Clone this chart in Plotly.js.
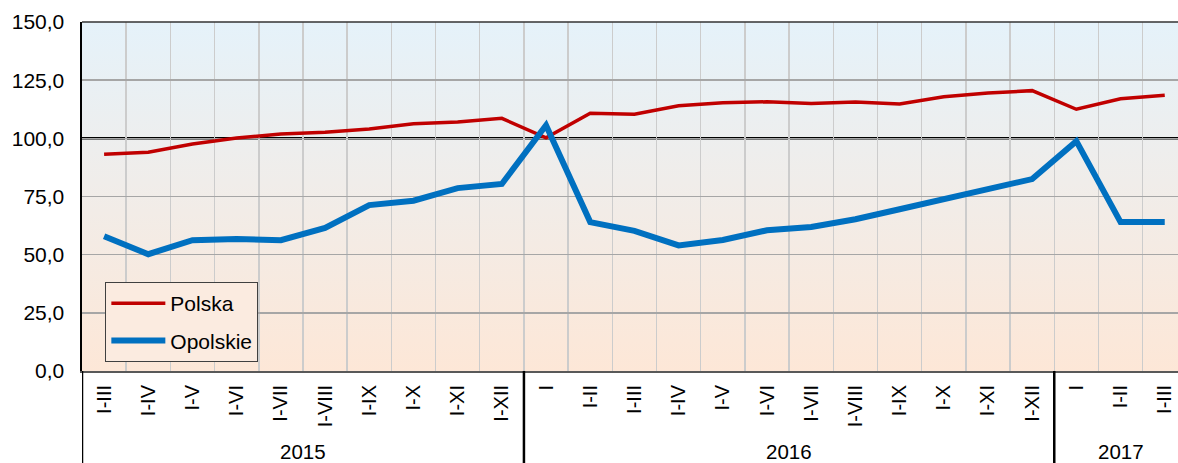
<!DOCTYPE html>
<html>
<head>
<meta charset="utf-8">
<script src="https://cdn.plot.ly/plotly-3.0.1.min.js"></script>
<style>html,body{margin:0;padding:0;background:#fff;}#chart{width:1178px;height:463px;}</style>
</head>
<body>
<div id="chart"></div>
<script>
// ---- data ----
const years = ["2015","2015","2015","2015","2015","2015","2015","2015","2015","2015",
  "2016","2016","2016","2016","2016","2016","2016","2016","2016","2016","2016","2016",
  "2017","2017","2017"];
const periods = ["I-III","I-IV","I-V","I-VI","I-VII","I-VIII","I-IX","I-X","I-XI","I-XII",
  "I","I-II","I-III","I-IV","I-V","I-VI","I-VII","I-VIII","I-IX","I-X","I-XI","I-XII",
  "I","I-II","I-III"];
const polska = [93.2,94.0,97.6,100.1,101.9,102.6,104.0,106.3,107.0,108.6,
  100.2,110.8,110.4,114.0,115.3,115.7,115.0,115.6,114.8,117.9,119.5,120.5,
  112.5,117.0,118.5];
const opolskie = [57.9,50.2,56.2,56.7,56.2,61.5,71.3,73.2,78.6,80.4,
  105.6,64.0,60.2,54.0,56.3,60.5,61.9,65.2,69.5,73.8,78.2,82.5,
  98.8,64.0,64.0];
const seriesNames = ["Polska","Opolskie"];

// positions on the axis = index of each period
const xi = periods.map((_, i) => i);

// year groups (derived from the years array)
const groups = [];
years.forEach((y, i) => {
  const g = groups[groups.length - 1];
  if (g && g.year === y) g.end = i; else groups.push({year: y, start: i, end: i});
});

const gradSvg = "<svg xmlns='http://www.w3.org/2000/svg' width='100' height='100' preserveAspectRatio='none'>" +
  "<defs><linearGradient id='g' x1='0' y1='0' x2='0' y2='1'>" +
  "<stop offset='0' stop-color='#e5f2fa'/><stop offset='1' stop-color='#fde7d7'/>" +
  "</linearGradient></defs><rect width='100' height='100' fill='url(#g)'/></svg>";
const gradUri = "data:image/svg+xml;charset=utf-8," + encodeURIComponent(gradSvg);

const fam = "Liberation Sans, Arial, sans-serif";
const font = {family: fam, size: 21, color: "#000"};

const traces = [
  {x: xi, y: polska, name: seriesNames[0], type: "scatter", mode: "lines",
   line: {color: "#c00000", width: 3.5}, legendgroup: "a"},
  {x: xi, y: opolskie, name: seriesNames[1], type: "scatter", mode: "lines",
   line: {color: "#0070c0", width: 6}, legendgroup: "b"}
];

const H = 463, mt = 22, mb = 92;
const plotH = H - mt - mb;
const divBottom = -mb / plotH;
const yearY = -(80.5 / plotH);

const shapes = [
  {type: "line", xref: "paper", yref: "y", x0: 0, x1: 1, y0: 100, y1: 100,
   line: {color: "#000", width: 2.5}, layer: "between"},
  {type: "line", xref: "paper", yref: "paper", x0: 0, x1: 1, y0: 1, y1: 1,
   line: {color: "#333", width: 1.5}, layer: "above"}
];
const annotations = [];
groups.forEach(g => {
  shapes.push({type: "line", xref: "x", yref: "paper", x0: g.start - 0.5, x1: g.start - 0.5,
    y0: 0, y1: divBottom, line: {color: "#000", width: 2.5}, layer: "above"});
  annotations.push({xref: "x", yref: "paper", x: (g.start + g.end) / 2, y: yearY,
    text: g.year, showarrow: false, xanchor: "center", yanchor: "middle", borderpad: 0,
    font: {family: fam, size: 20.5, color: "#000"}});
});

const layout = {
  width: 1178, height: H,
  margin: {l: 82, r: 0, t: mt, b: mb},
  paper_bgcolor: "#ffffff",
  plot_bgcolor: "rgba(0,0,0,0)",
  separators: ", ",
  font: font,
  showlegend: true,
  legend: {
    x: 0.0213, y: 0.255, xanchor: "left", yanchor: "top",
    bgcolor: "#fbebe0", bordercolor: "#404040", borderwidth: 1,
    font: {family: fam, size: 21, color: "#000"},
    tracegroupgap: 7, itemwidth: 54
  },
  xaxis: {
    type: "linear",
    range: [-0.5, 24.3],
    tickmode: "array", tickvals: xi, ticktext: periods,
    tickangle: -90,
    showgrid: false,
    minor: {tick0: -0.5, dtick: 1, showgrid: true, gridcolor: "#cccccc", gridwidth: 1.5, ticks: ""},
    showline: true, linecolor: "#595959", linewidth: 2,
    zeroline: false,
    ticks: "", ticklabelstandoff: 4,
    tickfont: {family: fam, size: 20, color: "#000"},
    fixedrange: true
  },
  yaxis: {
    range: [0, 150], dtick: 25, tick0: 0, tickformat: ".1f",
    showgrid: true, gridcolor: "#a6a6a6", gridwidth: 1.5,
    zeroline: false,
    showline: true, linecolor: "#000", linewidth: 2.5,
    ticks: "", ticklabelstandoff: 11,
    tickfont: {family: fam, size: 21, color: "#000"},
    fixedrange: true
  },
  images: [{source: gradUri, xref: "paper", yref: "paper", x: 0, y: 1, sizex: 1, sizey: 1,
    sizing: "stretch", layer: "below", xanchor: "left", yanchor: "top"}],
  shapes: shapes,
  annotations: annotations
};

Plotly.newPlot("chart", traces, layout, {displayModeBar: false, staticPlot: true});
</script>
</body>
</html>
